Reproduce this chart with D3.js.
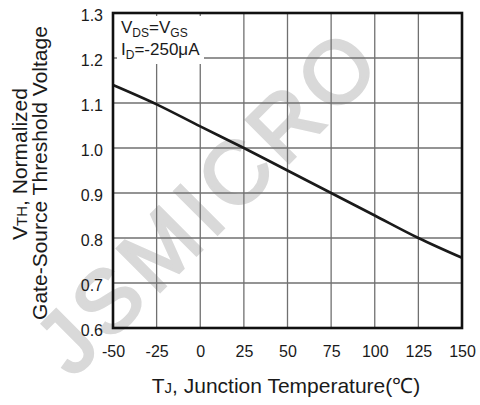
<!DOCTYPE html>
<html>
<head>
<meta charset="utf-8">
<script src="https://cdn.jsdelivr.net/npm/d3@7"></script>
<style>
body{margin:0;background:#fff;}
text{font-family:"Liberation Sans",Arial,sans-serif;fill:#1a1a1a;}
</style>
</head>
<body>
<div class="visHolder"></div>
<script>
// chart values
const temps=[-50,-25,0,25,50,75,100,125,150];
const vth=[1.14,1.097,1.048,1.0,0.95,0.9,0.85,0.8,0.756];
const xTicks=[-50,-25,0,25,50,75,100,125,150];
const yTicks=[0.6,0.7,0.8,0.9,1.0,1.1,1.2,1.3];

const W=480,H=405;
const pLeft=113,pRight=462,pTop=13,pBottom=328;

const svg=d3.select(".visHolder")
.append("svg")
.attr("width",W)
.attr("height",H);

svg.append("rect").attr("width",W).attr("height",H).attr("fill","#fff");

const xScale=d3.scaleLinear().domain([-50,150]).range([pLeft,pRight]);
const yScale=d3.scaleLinear().domain([0.6,1.3]).range([pBottom,pTop]);

// watermark
svg.append("text")
.attr("transform","translate(208,200) rotate(-45)")
.attr("text-anchor","middle")
.attr("dy","0.35em")
.style("font-size","88px")
.style("letter-spacing","7px")
.style("fill","#d9d9d9")
.style("stroke","#d9d9d9")
.style("stroke-width","3px")
.text("JSMICRO");

// grid
svg.append("g")
.selectAll("line")
.data(xTicks.slice(1,-1))
.enter()
.append("line")
.attr("x1",d=>xScale(d)).attr("x2",d=>xScale(d))
.attr("y1",pTop).attr("y2",pBottom)
.attr("stroke","#707070").attr("stroke-width",1.3);

svg.append("g")
.selectAll("line")
.data(yTicks.slice(1,-1))
.enter()
.append("line")
.attr("y1",d=>yScale(d)).attr("y2",d=>yScale(d))
.attr("x1",pLeft).attr("x2",pRight)
.attr("stroke","#707070").attr("stroke-width",1.3);

// annotation box
svg.append("rect")
.attr("x",117).attr("y",16)
.attr("width",87).attr("height",48)
.attr("fill","#fff");

const ann1=svg.append("text").attr("x",121).attr("y",33).style("font-size","17px");
ann1.append("tspan").text("V");
ann1.append("tspan").attr("dy",4).style("font-size","12px").text("DS");
ann1.append("tspan").attr("dy",-4).text("=V");
ann1.append("tspan").attr("dy",4).style("font-size","12px").text("GS");

const ann2=svg.append("text").attr("x",121).attr("y",55).style("font-size","17px");
ann2.append("tspan").text("I");
ann2.append("tspan").attr("dy",4).style("font-size","12px").text("D");
ann2.append("tspan").attr("dy",-4).text("=-250μA");

// curve
svg.append("path")
.datum(temps.map((t,i)=>[t,vth[i]]))
.attr("fill","none")
.attr("stroke","#1a1a1a")
.attr("stroke-width",2.6)
.attr("d",d3.line().curve(d3.curveMonotoneX).x(d=>xScale(d[0])).y(d=>yScale(d[1])));

// frame
svg.append("rect")
.attr("x",pLeft).attr("y",pTop)
.attr("width",pRight-pLeft).attr("height",pBottom-pTop)
.attr("fill","none")
.attr("stroke","#111")
.attr("stroke-width",2.6);

// axes (labels only)
const xAxis=d3.axisBottom(xScale).tickValues(xTicks).tickSize(0).tickPadding(18).tickFormat(d=>String(d));
const yAxis=d3.axisLeft(yScale).tickValues(yTicks).tickSize(0).tickPadding(10).tickFormat(d3.format(".1f"));

const gx=svg.append("g").attr("transform","translate(0,"+pBottom+")").call(xAxis);
const gy=svg.append("g").attr("transform","translate("+pLeft+",2)").call(yAxis);
[gx,gy].forEach(g=>{
  g.select(".domain").remove();
  g.selectAll("text").style("font-size","16px").style("font-family","'Liberation Sans',Arial,sans-serif").attr("fill","#1a1a1a");
});

// axis titles
const xt=svg.append("text").attr("x",286).attr("y",393).attr("text-anchor","middle").style("font-size","21px");
xt.append("tspan").text("T");
xt.append("tspan").style("font-size","15px").text("J");
xt.append("tspan").text(", Junction Temperature(℃)");

const yt1=svg.append("text").attr("transform","translate(27,164) rotate(-90)").attr("text-anchor","middle").style("font-size","21px");
yt1.append("tspan").text("V");
yt1.append("tspan").style("font-size","15px").text("TH");
yt1.append("tspan").text(", Normalized");

svg.append("text").attr("transform","translate(47,173) rotate(-90)").attr("text-anchor","middle").style("font-size","21px")
.text("Gate-Source Threshold Voltage");
</script>
</body>
</html>
